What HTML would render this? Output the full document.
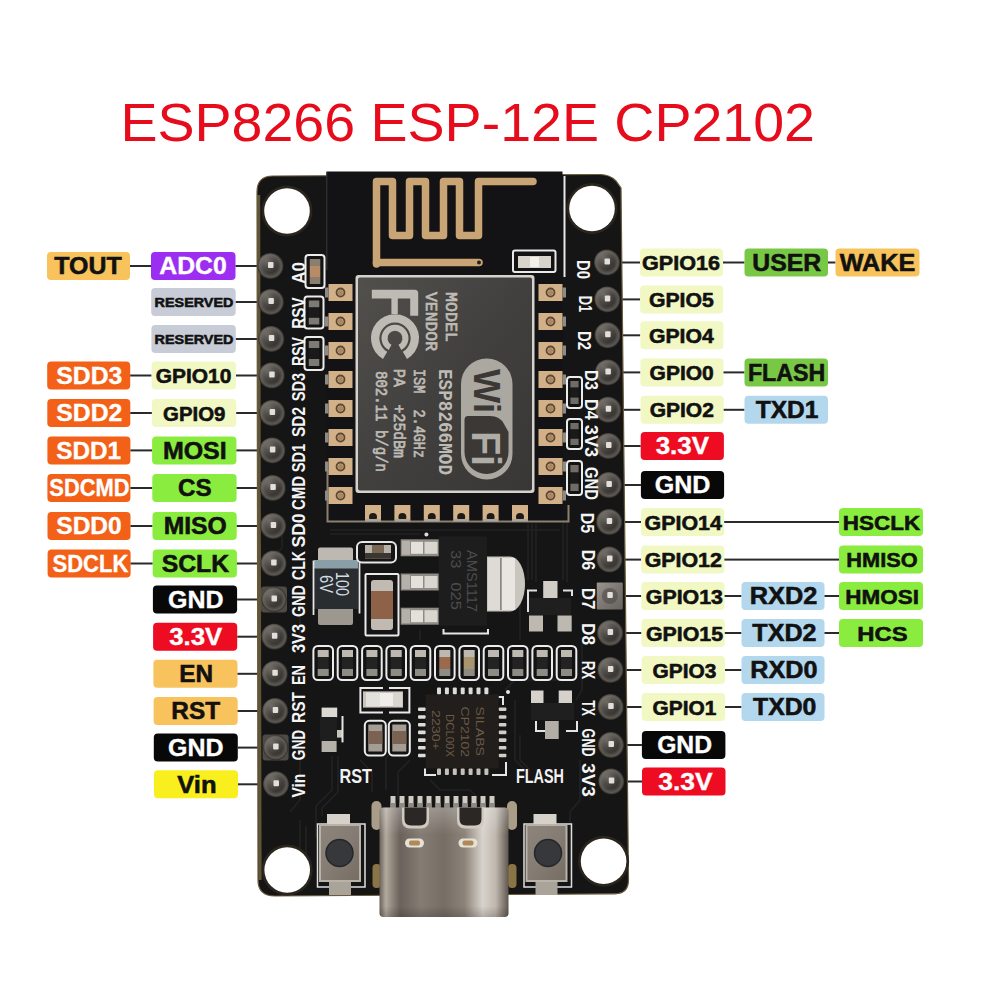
<!DOCTYPE html>
<html><head><meta charset="utf-8"><title>ESP8266 ESP-12E CP2102 pinout</title>
<style>
html,body{margin:0;padding:0;background:#fff;width:1000px;height:1000px;overflow:hidden}
svg{display:block;font-family:"Liberation Sans", sans-serif}
</style></head><body>
<svg width="1000" height="1000" viewBox="0 0 1000 1000">
<rect width="1000" height="1000" fill="#fff"/>
<text x="120.5" y="141" font-size="53" fill="#e60c1c" textLength="694.5" lengthAdjust="spacingAndGlyphs">ESP8266 ESP-12E CP2102</text>
<g id="labels">
<rect x="47.0" y="252.0" width="83.0" height="28" rx="4" fill="#f8c35c"/>
<text x="88.0" y="274.4" font-size="23.5" font-weight="bold" fill="#111" stroke="#111" stroke-width="0.55" text-anchor="middle" textLength="67.4" lengthAdjust="spacingAndGlyphs">TOUT</text>
<rect x="130.0" y="265.0" width="21.0" height="2" fill="#2a2a2a"/>
<rect x="151.0" y="252.0" width="84.5" height="28" rx="4" fill="#9b2ef0"/>
<text x="193.0" y="274.4" font-size="23.5" font-weight="bold" fill="#fff" stroke="#fff" stroke-width="0.35" text-anchor="middle" textLength="67.4" lengthAdjust="spacingAndGlyphs">ADC0</text>
<rect x="235.5" y="265.0" width="23.5" height="2" fill="#2a2a2a"/>
<rect x="151.2" y="288.0" width="84.5" height="28" rx="4" fill="#c8ccd6"/>
<text x="194.0" y="307.4" font-size="13.0" font-weight="bold" fill="#111" stroke="#111" stroke-width="0.55" text-anchor="middle" textLength="78.8" lengthAdjust="spacingAndGlyphs">RESERVED</text>
<rect x="235.7" y="301.0" width="23.4" height="2" fill="#2a2a2a"/>
<rect x="151.4" y="325.0" width="84.4" height="28" rx="4" fill="#c8ccd6"/>
<text x="194.0" y="344.4" font-size="13.0" font-weight="bold" fill="#111" stroke="#111" stroke-width="0.55" text-anchor="middle" textLength="78.8" lengthAdjust="spacingAndGlyphs">RESERVED</text>
<rect x="235.9" y="338.0" width="23.3" height="2" fill="#2a2a2a"/>
<rect x="47.2" y="361.5" width="83.0" height="28" rx="4" fill="#f36119"/>
<text x="89.3" y="383.9" font-size="23.5" font-weight="bold" fill="#fff" stroke="#fff" stroke-width="0.35" text-anchor="middle" textLength="66.0" lengthAdjust="spacingAndGlyphs">SDD3</text>
<rect x="130.2" y="374.5" width="21.4" height="2" fill="#2a2a2a"/>
<rect x="151.6" y="361.5" width="84.4" height="28" rx="4" fill="#f2f8c3"/>
<text x="193.6" y="383.1" font-size="19.3" font-weight="bold" fill="#111" stroke="#111" stroke-width="0.55" text-anchor="middle" textLength="75.6" lengthAdjust="spacingAndGlyphs">GPIO10</text>
<rect x="236.0" y="374.5" width="23.2" height="2" fill="#2a2a2a"/>
<rect x="47.3" y="399.0" width="83.0" height="28" rx="4" fill="#f36119"/>
<text x="89.3" y="421.4" font-size="23.5" font-weight="bold" fill="#fff" stroke="#fff" stroke-width="0.35" text-anchor="middle" textLength="66.0" lengthAdjust="spacingAndGlyphs">SDD2</text>
<rect x="130.3" y="412.0" width="21.6" height="2" fill="#2a2a2a"/>
<rect x="151.9" y="399.0" width="84.4" height="28" rx="4" fill="#f2f8c3"/>
<text x="194.2" y="420.6" font-size="19.3" font-weight="bold" fill="#111" stroke="#111" stroke-width="0.55" text-anchor="middle" textLength="62.4" lengthAdjust="spacingAndGlyphs">GPIO9</text>
<rect x="236.2" y="412.0" width="23.2" height="2" fill="#2a2a2a"/>
<rect x="47.4" y="436.4" width="83.0" height="28" rx="4" fill="#f36119"/>
<text x="88.7" y="458.8" font-size="23.5" font-weight="bold" fill="#fff" stroke="#fff" stroke-width="0.35" text-anchor="middle" textLength="64.8" lengthAdjust="spacingAndGlyphs">SDD1</text>
<rect x="130.4" y="449.4" width="21.7" height="2" fill="#2a2a2a"/>
<rect x="152.1" y="436.4" width="84.3" height="28" rx="4" fill="#8aec3e"/>
<text x="194.8" y="458.8" font-size="23.5" font-weight="bold" fill="#111" stroke="#111" stroke-width="0.55" text-anchor="middle" textLength="63.8" lengthAdjust="spacingAndGlyphs">MOSI</text>
<rect x="236.4" y="449.4" width="23.1" height="2" fill="#2a2a2a"/>
<rect x="47.4" y="474.0" width="83.0" height="28" rx="4" fill="#f36119"/>
<text x="89.4" y="496.4" font-size="23.5" font-weight="bold" fill="#fff" stroke="#fff" stroke-width="0.35" text-anchor="middle" textLength="80.2" lengthAdjust="spacingAndGlyphs">SDCMD</text>
<rect x="130.4" y="487.0" width="21.9" height="2" fill="#2a2a2a"/>
<rect x="152.3" y="474.0" width="84.3" height="28" rx="4" fill="#8aec3e"/>
<text x="194.8" y="496.4" font-size="23.5" font-weight="bold" fill="#111" stroke="#111" stroke-width="0.55" text-anchor="middle" textLength="33.6" lengthAdjust="spacingAndGlyphs">CS</text>
<rect x="236.6" y="487.0" width="23.0" height="2" fill="#2a2a2a"/>
<rect x="47.5" y="512.0" width="83.0" height="28" rx="4" fill="#f36119"/>
<text x="89.0" y="534.4" font-size="23.5" font-weight="bold" fill="#fff" stroke="#fff" stroke-width="0.35" text-anchor="middle" textLength="65.4" lengthAdjust="spacingAndGlyphs">SDD0</text>
<rect x="130.5" y="525.0" width="22.0" height="2" fill="#2a2a2a"/>
<rect x="152.5" y="512.0" width="84.2" height="28" rx="4" fill="#8aec3e"/>
<text x="195.2" y="534.4" font-size="23.5" font-weight="bold" fill="#111" stroke="#111" stroke-width="0.55" text-anchor="middle" textLength="63.1" lengthAdjust="spacingAndGlyphs">MISO</text>
<rect x="236.8" y="525.0" width="22.9" height="2" fill="#2a2a2a"/>
<rect x="47.6" y="549.5" width="83.0" height="28" rx="4" fill="#f36119"/>
<text x="90.4" y="571.9" font-size="23.5" font-weight="bold" fill="#fff" stroke="#fff" stroke-width="0.35" text-anchor="middle" textLength="75.8" lengthAdjust="spacingAndGlyphs">SDCLK</text>
<rect x="130.6" y="562.5" width="22.1" height="2" fill="#2a2a2a"/>
<rect x="152.7" y="549.5" width="84.2" height="28" rx="4" fill="#8aec3e"/>
<text x="195.4" y="571.9" font-size="23.5" font-weight="bold" fill="#111" stroke="#111" stroke-width="0.55" text-anchor="middle" textLength="67.4" lengthAdjust="spacingAndGlyphs">SCLK</text>
<rect x="236.9" y="562.5" width="22.8" height="2" fill="#2a2a2a"/>
<rect x="152.9" y="585.5" width="84.2" height="28" rx="4" fill="#080808"/>
<text x="195.8" y="607.9" font-size="23.5" font-weight="bold" fill="#fff" stroke="#fff" stroke-width="0.35" text-anchor="middle" textLength="55.5" lengthAdjust="spacingAndGlyphs">GND</text>
<rect x="237.1" y="598.5" width="22.7" height="2" fill="#2a2a2a"/>
<rect x="153.1" y="622.7" width="84.1" height="28" rx="4" fill="#ee0c22"/>
<text x="195.8" y="645.1" font-size="23.5" font-weight="bold" fill="#fff" stroke="#fff" stroke-width="0.35" text-anchor="middle" textLength="53.0" lengthAdjust="spacingAndGlyphs">3.3V</text>
<rect x="237.3" y="635.7" width="22.6" height="2" fill="#2a2a2a"/>
<rect x="153.4" y="659.8" width="84.1" height="28" rx="4" fill="#f8c35c"/>
<text x="196.2" y="682.2" font-size="23.5" font-weight="bold" fill="#111" stroke="#111" stroke-width="0.55" text-anchor="middle" textLength="33.8" lengthAdjust="spacingAndGlyphs">EN</text>
<rect x="237.5" y="672.8" width="22.6" height="2" fill="#2a2a2a"/>
<rect x="153.6" y="697.0" width="84.1" height="28" rx="4" fill="#f8c35c"/>
<text x="195.7" y="719.4" font-size="23.5" font-weight="bold" fill="#111" stroke="#111" stroke-width="0.55" text-anchor="middle" textLength="48.7" lengthAdjust="spacingAndGlyphs">RST</text>
<rect x="237.6" y="710.0" width="22.5" height="2" fill="#2a2a2a"/>
<rect x="153.8" y="733.6" width="84.0" height="28" rx="4" fill="#080808"/>
<text x="195.8" y="756.0" font-size="23.5" font-weight="bold" fill="#fff" stroke="#fff" stroke-width="0.35" text-anchor="middle" textLength="55.5" lengthAdjust="spacingAndGlyphs">GND</text>
<rect x="237.8" y="746.6" width="22.4" height="2" fill="#2a2a2a"/>
<rect x="154.0" y="770.3" width="84.0" height="28" rx="4" fill="#f9ef1e"/>
<text x="196.9" y="792.7" font-size="23.5" font-weight="bold" fill="#111" stroke="#111" stroke-width="0.55" text-anchor="middle" textLength="39.3" lengthAdjust="spacingAndGlyphs">Vin</text>
<rect x="238.0" y="783.3" width="22.3" height="2" fill="#2a2a2a"/>
<rect x="619.5" y="261.5" width="20.5" height="2" fill="#2a2a2a"/>
<rect x="640.0" y="248.5" width="83.0" height="28" rx="4" fill="#f2f8c3"/>
<text x="681.0" y="270.1" font-size="19.3" font-weight="bold" fill="#111" stroke="#111" stroke-width="0.55" text-anchor="middle" textLength="78.0" lengthAdjust="spacingAndGlyphs">GPIO16</text>
<rect x="723.0" y="261.5" width="21.5" height="2" fill="#2a2a2a"/>
<rect x="744.5" y="248.5" width="83.5" height="28" rx="4" fill="#78c846"/>
<text x="786.8" y="270.9" font-size="23.5" font-weight="bold" fill="#111" stroke="#111" stroke-width="0.55" text-anchor="middle" textLength="68.9" lengthAdjust="spacingAndGlyphs">USER</text>
<rect x="828.0" y="261.5" width="7.5" height="2" fill="#2a2a2a"/>
<rect x="835.5" y="248.5" width="84.0" height="28" rx="4" fill="#f8c35c"/>
<text x="877.5" y="270.9" font-size="23.5" font-weight="bold" fill="#111" stroke="#111" stroke-width="0.55" text-anchor="middle" textLength="75.5" lengthAdjust="spacingAndGlyphs">WAKE</text>
<rect x="619.8" y="298.4" width="20.3" height="2" fill="#2a2a2a"/>
<rect x="640.1" y="285.4" width="83.0" height="28" rx="4" fill="#f2f8c3"/>
<text x="681.3" y="307.0" font-size="19.3" font-weight="bold" fill="#111" stroke="#111" stroke-width="0.55" text-anchor="middle" textLength="64.8" lengthAdjust="spacingAndGlyphs">GPIO5</text>
<rect x="620.2" y="334.3" width="20.1" height="2" fill="#2a2a2a"/>
<rect x="640.3" y="321.3" width="83.1" height="28" rx="4" fill="#f2f8c3"/>
<text x="681.3" y="342.9" font-size="19.3" font-weight="bold" fill="#111" stroke="#111" stroke-width="0.55" text-anchor="middle" textLength="64.8" lengthAdjust="spacingAndGlyphs">GPIO4</text>
<rect x="620.6" y="371.4" width="19.9" height="2" fill="#2a2a2a"/>
<rect x="640.4" y="358.4" width="83.1" height="28" rx="4" fill="#f2f8c3"/>
<text x="681.7" y="380.0" font-size="19.3" font-weight="bold" fill="#111" stroke="#111" stroke-width="0.55" text-anchor="middle" textLength="64.2" lengthAdjust="spacingAndGlyphs">GPIO0</text>
<rect x="723.5" y="371.4" width="21.0" height="2" fill="#2a2a2a"/>
<rect x="744.5" y="358.4" width="83.5" height="28" rx="4" fill="#78c846"/>
<text x="786.6" y="380.8" font-size="23.5" font-weight="bold" fill="#111" stroke="#111" stroke-width="0.55" text-anchor="middle" textLength="77.4" lengthAdjust="spacingAndGlyphs">FLASH</text>
<rect x="620.9" y="408.8" width="19.6" height="2" fill="#2a2a2a"/>
<rect x="640.6" y="395.8" width="83.1" height="28" rx="4" fill="#f2f8c3"/>
<text x="681.8" y="417.4" font-size="19.3" font-weight="bold" fill="#111" stroke="#111" stroke-width="0.55" text-anchor="middle" textLength="64.2" lengthAdjust="spacingAndGlyphs">GPIO2</text>
<rect x="723.7" y="408.8" width="20.8" height="2" fill="#2a2a2a"/>
<rect x="744.5" y="395.8" width="83.5" height="28" rx="4" fill="#b3d8ee"/>
<text x="787.1" y="418.2" font-size="23.5" font-weight="bold" fill="#111" stroke="#111" stroke-width="0.55" text-anchor="middle" textLength="62.8" lengthAdjust="spacingAndGlyphs">TXD1</text>
<rect x="621.3" y="445.0" width="19.4" height="2" fill="#2a2a2a"/>
<rect x="640.7" y="432.0" width="83.2" height="28" rx="4" fill="#ee0c22"/>
<text x="682.4" y="454.4" font-size="23.5" font-weight="bold" fill="#fff" stroke="#fff" stroke-width="0.35" text-anchor="middle" textLength="53.4" lengthAdjust="spacingAndGlyphs">3.3V</text>
<rect x="621.7" y="484.0" width="19.2" height="2" fill="#2a2a2a"/>
<rect x="640.9" y="471.0" width="83.2" height="28" rx="4" fill="#080808"/>
<text x="682.6" y="493.4" font-size="23.5" font-weight="bold" fill="#fff" stroke="#fff" stroke-width="0.35" text-anchor="middle" textLength="55.7" lengthAdjust="spacingAndGlyphs">GND</text>
<rect x="622.1" y="521.0" width="18.9" height="2" fill="#2a2a2a"/>
<rect x="641.0" y="508.0" width="83.2" height="28" rx="4" fill="#f2f8c3"/>
<text x="683.2" y="529.6" font-size="19.3" font-weight="bold" fill="#111" stroke="#111" stroke-width="0.55" text-anchor="middle" textLength="77.2" lengthAdjust="spacingAndGlyphs">GPIO14</text>
<rect x="724.2" y="521.0" width="114.8" height="2" fill="#2a2a2a"/>
<rect x="839.0" y="508.0" width="84.0" height="28" rx="4" fill="#8aec3e"/>
<text x="881.5" y="529.6" font-size="21" font-weight="bold" fill="#111" stroke="#111" stroke-width="0.55" text-anchor="middle" textLength="77.3" lengthAdjust="spacingAndGlyphs">HSCLK</text>
<rect x="622.4" y="558.6" width="18.7" height="2" fill="#2a2a2a"/>
<rect x="641.1" y="545.6" width="83.3" height="28" rx="4" fill="#f2f8c3"/>
<text x="683.3" y="567.2" font-size="19.3" font-weight="bold" fill="#111" stroke="#111" stroke-width="0.55" text-anchor="middle" textLength="77.2" lengthAdjust="spacingAndGlyphs">GPIO12</text>
<rect x="724.4" y="558.6" width="114.6" height="2" fill="#2a2a2a"/>
<rect x="839.0" y="545.6" width="84.0" height="28" rx="4" fill="#8aec3e"/>
<text x="882.0" y="567.2" font-size="21" font-weight="bold" fill="#111" stroke="#111" stroke-width="0.55" text-anchor="middle" textLength="71.3" lengthAdjust="spacingAndGlyphs">HMISO</text>
<rect x="622.8" y="595.0" width="18.5" height="2" fill="#2a2a2a"/>
<rect x="641.3" y="582.0" width="83.3" height="28" rx="4" fill="#f2f8c3"/>
<text x="684.4" y="603.6" font-size="19.3" font-weight="bold" fill="#111" stroke="#111" stroke-width="0.55" text-anchor="middle" textLength="77.2" lengthAdjust="spacingAndGlyphs">GPIO13</text>
<rect x="724.6" y="595.0" width="16.9" height="2" fill="#2a2a2a"/>
<rect x="741.5" y="582.0" width="83.0" height="28" rx="4" fill="#b3d8ee"/>
<text x="783.5" y="604.4" font-size="23.5" font-weight="bold" fill="#111" stroke="#111" stroke-width="0.55" text-anchor="middle" textLength="67.6" lengthAdjust="spacingAndGlyphs">RXD2</text>
<rect x="824.5" y="595.0" width="14.5" height="2" fill="#2a2a2a"/>
<rect x="839.0" y="582.0" width="84.0" height="28" rx="4" fill="#8aec3e"/>
<text x="882.2" y="603.6" font-size="21" font-weight="bold" fill="#111" stroke="#111" stroke-width="0.55" text-anchor="middle" textLength="73.7" lengthAdjust="spacingAndGlyphs">HMOSI</text>
<rect x="623.2" y="632.0" width="18.3" height="2" fill="#2a2a2a"/>
<rect x="641.4" y="619.0" width="83.4" height="28" rx="4" fill="#f2f8c3"/>
<text x="684.5" y="640.6" font-size="19.3" font-weight="bold" fill="#111" stroke="#111" stroke-width="0.55" text-anchor="middle" textLength="77.2" lengthAdjust="spacingAndGlyphs">GPIO15</text>
<rect x="724.8" y="632.0" width="16.7" height="2" fill="#2a2a2a"/>
<rect x="741.5" y="619.0" width="83.0" height="28" rx="4" fill="#b3d8ee"/>
<text x="784.4" y="641.4" font-size="23.5" font-weight="bold" fill="#111" stroke="#111" stroke-width="0.55" text-anchor="middle" textLength="64.1" lengthAdjust="spacingAndGlyphs">TXD2</text>
<rect x="824.5" y="632.0" width="14.5" height="2" fill="#2a2a2a"/>
<rect x="839.0" y="619.0" width="84.0" height="28" rx="4" fill="#8aec3e"/>
<text x="882.5" y="640.6" font-size="21" font-weight="bold" fill="#111" stroke="#111" stroke-width="0.55" text-anchor="middle" textLength="50.3" lengthAdjust="spacingAndGlyphs">HCS</text>
<rect x="623.5" y="669.0" width="18.0" height="2" fill="#2a2a2a"/>
<rect x="641.6" y="656.0" width="83.4" height="28" rx="4" fill="#f2f8c3"/>
<text x="684.4" y="677.6" font-size="19.3" font-weight="bold" fill="#111" stroke="#111" stroke-width="0.55" text-anchor="middle" textLength="63.9" lengthAdjust="spacingAndGlyphs">GPIO3</text>
<rect x="725.0" y="669.0" width="16.5" height="2" fill="#2a2a2a"/>
<rect x="741.5" y="656.0" width="83.0" height="28" rx="4" fill="#b3d8ee"/>
<text x="783.9" y="678.4" font-size="23.5" font-weight="bold" fill="#111" stroke="#111" stroke-width="0.55" text-anchor="middle" textLength="67.2" lengthAdjust="spacingAndGlyphs">RXD0</text>
<rect x="623.9" y="706.0" width="17.8" height="2" fill="#2a2a2a"/>
<rect x="641.7" y="693.0" width="83.4" height="28" rx="4" fill="#f2f8c3"/>
<text x="684.5" y="714.6" font-size="19.3" font-weight="bold" fill="#111" stroke="#111" stroke-width="0.55" text-anchor="middle" textLength="63.9" lengthAdjust="spacingAndGlyphs">GPIO1</text>
<rect x="725.1" y="706.0" width="16.4" height="2" fill="#2a2a2a"/>
<rect x="741.5" y="693.0" width="83.0" height="28" rx="4" fill="#b3d8ee"/>
<text x="784.7" y="715.4" font-size="23.5" font-weight="bold" fill="#111" stroke="#111" stroke-width="0.55" text-anchor="middle" textLength="63.4" lengthAdjust="spacingAndGlyphs">TXD0</text>
<rect x="624.3" y="744.0" width="17.6" height="2" fill="#2a2a2a"/>
<rect x="641.9" y="731.0" width="83.5" height="28" rx="4" fill="#080808"/>
<text x="684.6" y="753.4" font-size="23.5" font-weight="bold" fill="#fff" stroke="#fff" stroke-width="0.35" text-anchor="middle" textLength="54.9" lengthAdjust="spacingAndGlyphs">GND</text>
<rect x="624.7" y="780.5" width="17.3" height="2" fill="#2a2a2a"/>
<rect x="642.0" y="767.5" width="83.5" height="28" rx="4" fill="#ee0c22"/>
<text x="685.5" y="789.9" font-size="23.5" font-weight="bold" fill="#fff" stroke="#fff" stroke-width="0.35" text-anchor="middle" textLength="54.4" lengthAdjust="spacingAndGlyphs">3.3V</text>
</g>
<g id="board">
<path d="M257,192 Q257,176 273,176 L600,174.5 Q610,174.5 616,181 L621,188 L628.5,880 Q628.5,893.5 615,893.8 L275,896 Q258,896 258,880 Z" fill="#151516" stroke="#6b5a3c" stroke-width="1.2"/>
<path d="M258.6,195 L260,880" stroke="#6a5c3c" stroke-width="3.2" opacity="0.9"/>
<path d="M332,756 L332,790 L316,806 L316,838" fill="none" stroke="#222224" stroke-width="1.6"/>
<path d="M338,756 L338,792 L322,808 L322,816" fill="none" stroke="#222224" stroke-width="1.6"/>
<path d="M300,760 L300,800 L290,812" fill="none" stroke="#222224" stroke-width="1.6"/>
<path d="M360,760 L372,772 L372,792" fill="none" stroke="#222224" stroke-width="1.6"/>
<path d="M410,760 L398,772 L398,800" fill="none" stroke="#222224" stroke-width="1.6"/>
<path d="M404,740 L386,758 L386,790" fill="none" stroke="#222224" stroke-width="1.6"/>
<path d="M528,520 L528,580" fill="none" stroke="#222224" stroke-width="1.6"/>
<path d="M532,520 L532,580" fill="none" stroke="#222224" stroke-width="1.6"/>
<path d="M536,520 L536,582" fill="none" stroke="#222224" stroke-width="1.6"/>
<path d="M563,520 L563,580" fill="none" stroke="#222224" stroke-width="1.6"/>
<path d="M567,520 L567,582" fill="none" stroke="#222224" stroke-width="1.6"/>
<path d="M520,640 L520,600" fill="none" stroke="#222224" stroke-width="1.6"/>
<path d="M582,640 L582,690 L576,700" fill="none" stroke="#222224" stroke-width="1.6"/>
<path d="M515,700 L515,760 L525,770" fill="none" stroke="#222224" stroke-width="1.6"/>
<path d="M520,735 L520,760 L530,770" fill="none" stroke="#222224" stroke-width="1.6"/>
<path d="M505,690 L515,680 L560,680" fill="none" stroke="#222224" stroke-width="1.6"/>
<path d="M330,530 L560,530" fill="none" stroke="#222224" stroke-width="1.6"/>
<path d="M330,534 L420,534" fill="none" stroke="#222224" stroke-width="1.6"/>
<path d="M300,642 L300,600 L306,592" fill="none" stroke="#222224" stroke-width="1.6"/>
<path d="M420,640 L420,630" fill="none" stroke="#222224" stroke-width="1.6"/>
<path d="M580,760 L580,800 L570,812 L570,880" fill="none" stroke="#222224" stroke-width="1.6"/>
<path d="M590,770 L590,800" fill="none" stroke="#222224" stroke-width="1.6"/>
<path d="M300,820 L300,880" fill="none" stroke="#222224" stroke-width="1.6"/>
<path d="M306,826 L306,884" fill="none" stroke="#222224" stroke-width="1.6"/>
<path d="M430,780 L440,790 L470,790 L478,798" fill="none" stroke="#222224" stroke-width="1.6"/>
<path d="M270,560 L282,548 L282,520" fill="none" stroke="#222224" stroke-width="1.6"/>
<circle cx="287" cy="211" r="25.5" fill="#2b251d"/>
<circle cx="287" cy="211" r="22.8" fill="#fff"/>
<circle cx="592" cy="208.5" r="25.5" fill="#2b251d"/>
<circle cx="592" cy="208.5" r="22.8" fill="#fff"/>
<circle cx="287.2" cy="870" r="25.5" fill="#2b251d"/>
<circle cx="287.2" cy="870" r="22.8" fill="#fff"/>
<circle cx="603.6" cy="861.2" r="25.5" fill="#2b251d"/>
<circle cx="603.6" cy="861.2" r="22.8" fill="#fff"/>
<rect x="326.5" y="171.5" width="236" height="352" fill="#131315"/>
<line x1="326.8" y1="172" x2="326.8" y2="270" stroke="#3a3a3a" stroke-width="1"/>
<path d="M327.5,470 L327.5,521.5 L568.5,521.5 L568.5,505" fill="none" stroke="#8c8070" stroke-width="2"/>
<line x1="564.5" y1="176" x2="564.5" y2="277" stroke="#e8e8e8" stroke-width="2"/>
<path d="M376.5,264 L376.5,181.5 L392.5,181.5 L392.5,235.5 L409.5,235.5 L409.5,181.5 L425.5,181.5 L425.5,235.5 L443.5,235.5 L443.5,181.5 L459.5,181.5 L459.5,235.5 L478.5,235.5 L478.5,181.5 L533,181.5" fill="none" stroke="#c9a576" stroke-width="7.5" stroke-linejoin="round" stroke-linecap="round"/>
<path d="M376.5,262.5 L479,262.5" fill="none" stroke="#c9a576" stroke-width="7.5" stroke-linecap="round"/>
<circle cx="479" cy="262.5" r="2" fill="#222"/>
<rect x="513" y="250.5" width="42.5" height="21.5" rx="2" fill="none" stroke="#e9e9e9" stroke-width="2"/>
<rect x="518" y="256" width="33" height="12" fill="#d8d4cc"/>
<rect x="530" y="257" width="9" height="10" fill="#f2f0ea"/>
<rect x="328.5" y="284.0" width="24" height="17" fill="#d2b189"/>
<rect x="325.0" y="287.5" width="3.5" height="10" fill="#8e8a84"/>
<circle cx="340.5" cy="292.5" r="4" fill="none" stroke="#5e4733" stroke-width="1.8"/>
<circle cx="340.5" cy="292.5" r="2.6" fill="#a8885f"/>
<rect x="538.5" y="284.0" width="24" height="17" fill="#d2b189"/>
<rect x="562.5" y="287.5" width="3.5" height="10" fill="#8e8a84"/>
<circle cx="550.5" cy="292.5" r="4" fill="none" stroke="#5e4733" stroke-width="1.8"/>
<circle cx="550.5" cy="292.5" r="2.6" fill="#a8885f"/>
<rect x="328.5" y="313.0" width="24" height="17" fill="#d2b189"/>
<rect x="325.0" y="316.5" width="3.5" height="10" fill="#8e8a84"/>
<circle cx="340.5" cy="321.5" r="4" fill="none" stroke="#5e4733" stroke-width="1.8"/>
<circle cx="340.5" cy="321.5" r="2.6" fill="#a8885f"/>
<rect x="538.5" y="313.0" width="24" height="17" fill="#d2b189"/>
<rect x="562.5" y="316.5" width="3.5" height="10" fill="#8e8a84"/>
<circle cx="550.5" cy="321.5" r="4" fill="none" stroke="#5e4733" stroke-width="1.8"/>
<circle cx="550.5" cy="321.5" r="2.6" fill="#a8885f"/>
<rect x="328.5" y="342.0" width="24" height="17" fill="#d2b189"/>
<rect x="325.0" y="345.5" width="3.5" height="10" fill="#8e8a84"/>
<circle cx="340.5" cy="350.5" r="4" fill="none" stroke="#5e4733" stroke-width="1.8"/>
<circle cx="340.5" cy="350.5" r="2.6" fill="#a8885f"/>
<rect x="538.5" y="342.0" width="24" height="17" fill="#d2b189"/>
<rect x="562.5" y="345.5" width="3.5" height="10" fill="#8e8a84"/>
<circle cx="550.5" cy="350.5" r="4" fill="none" stroke="#5e4733" stroke-width="1.8"/>
<circle cx="550.5" cy="350.5" r="2.6" fill="#a8885f"/>
<rect x="328.5" y="371.0" width="24" height="17" fill="#d2b189"/>
<rect x="325.0" y="374.5" width="3.5" height="10" fill="#8e8a84"/>
<circle cx="340.5" cy="379.5" r="4" fill="none" stroke="#5e4733" stroke-width="1.8"/>
<circle cx="340.5" cy="379.5" r="2.6" fill="#a8885f"/>
<rect x="538.5" y="371.0" width="24" height="17" fill="#d2b189"/>
<rect x="562.5" y="374.5" width="3.5" height="10" fill="#8e8a84"/>
<circle cx="550.5" cy="379.5" r="4" fill="none" stroke="#5e4733" stroke-width="1.8"/>
<circle cx="550.5" cy="379.5" r="2.6" fill="#a8885f"/>
<rect x="328.5" y="400.0" width="24" height="17" fill="#d2b189"/>
<rect x="325.0" y="403.5" width="3.5" height="10" fill="#8e8a84"/>
<circle cx="340.5" cy="408.5" r="4" fill="none" stroke="#5e4733" stroke-width="1.8"/>
<circle cx="340.5" cy="408.5" r="2.6" fill="#a8885f"/>
<rect x="538.5" y="400.0" width="24" height="17" fill="#d2b189"/>
<rect x="562.5" y="403.5" width="3.5" height="10" fill="#8e8a84"/>
<circle cx="550.5" cy="408.5" r="4" fill="none" stroke="#5e4733" stroke-width="1.8"/>
<circle cx="550.5" cy="408.5" r="2.6" fill="#a8885f"/>
<rect x="328.5" y="429.0" width="24" height="17" fill="#d2b189"/>
<rect x="325.0" y="432.5" width="3.5" height="10" fill="#8e8a84"/>
<circle cx="340.5" cy="437.5" r="4" fill="none" stroke="#5e4733" stroke-width="1.8"/>
<circle cx="340.5" cy="437.5" r="2.6" fill="#a8885f"/>
<rect x="538.5" y="429.0" width="24" height="17" fill="#d2b189"/>
<rect x="562.5" y="432.5" width="3.5" height="10" fill="#8e8a84"/>
<circle cx="550.5" cy="437.5" r="4" fill="none" stroke="#5e4733" stroke-width="1.8"/>
<circle cx="550.5" cy="437.5" r="2.6" fill="#a8885f"/>
<rect x="328.5" y="458.0" width="24" height="17" fill="#d2b189"/>
<rect x="325.0" y="461.5" width="3.5" height="10" fill="#8e8a84"/>
<circle cx="340.5" cy="466.5" r="4" fill="none" stroke="#5e4733" stroke-width="1.8"/>
<circle cx="340.5" cy="466.5" r="2.6" fill="#a8885f"/>
<rect x="538.5" y="458.0" width="24" height="17" fill="#d2b189"/>
<rect x="562.5" y="461.5" width="3.5" height="10" fill="#8e8a84"/>
<circle cx="550.5" cy="466.5" r="4" fill="none" stroke="#5e4733" stroke-width="1.8"/>
<circle cx="550.5" cy="466.5" r="2.6" fill="#a8885f"/>
<rect x="328.5" y="487.0" width="24" height="17" fill="#d2b189"/>
<rect x="325.0" y="490.5" width="3.5" height="10" fill="#8e8a84"/>
<circle cx="340.5" cy="495.5" r="4" fill="none" stroke="#5e4733" stroke-width="1.8"/>
<circle cx="340.5" cy="495.5" r="2.6" fill="#a8885f"/>
<rect x="538.5" y="487.0" width="24" height="17" fill="#d2b189"/>
<rect x="562.5" y="490.5" width="3.5" height="10" fill="#8e8a84"/>
<circle cx="550.5" cy="495.5" r="4" fill="none" stroke="#5e4733" stroke-width="1.8"/>
<circle cx="550.5" cy="495.5" r="2.6" fill="#a8885f"/>
<rect x="365.0" y="505" width="16" height="14.5" fill="#d2b189"/>
<circle cx="373.0" cy="517" r="4" fill="#1e1a16"/>
<rect x="365.0" y="519" width="16" height="2.5" fill="#a9a49c"/>
<rect x="394.4" y="505" width="16" height="14.5" fill="#d2b189"/>
<circle cx="402.4" cy="517" r="4" fill="#1e1a16"/>
<rect x="394.4" y="519" width="16" height="2.5" fill="#a9a49c"/>
<rect x="423.8" y="505" width="16" height="14.5" fill="#d2b189"/>
<circle cx="431.8" cy="517" r="4" fill="#1e1a16"/>
<rect x="423.8" y="519" width="16" height="2.5" fill="#a9a49c"/>
<rect x="453.2" y="505" width="16" height="14.5" fill="#d2b189"/>
<circle cx="461.2" cy="517" r="4" fill="#1e1a16"/>
<rect x="453.2" y="519" width="16" height="2.5" fill="#a9a49c"/>
<rect x="482.6" y="505" width="16" height="14.5" fill="#d2b189"/>
<circle cx="490.6" cy="517" r="4" fill="#1e1a16"/>
<rect x="482.6" y="519" width="16" height="2.5" fill="#a9a49c"/>
<rect x="512.0" y="505" width="16" height="14.5" fill="#d2b189"/>
<circle cx="520.0" cy="517" r="4" fill="#1e1a16"/>
<rect x="512.0" y="519" width="16" height="2.5" fill="#a9a49c"/>
<defs><linearGradient id="sh" x1="0" y1="0" x2="1" y2="1"><stop offset="0" stop-color="#52504d"/><stop offset="0.5" stop-color="#42403e"/><stop offset="1" stop-color="#393735"/></linearGradient><radialGradient id="pin" cx="0.5" cy="0.5" r="0.5"><stop offset="0" stop-color="#2e2c2a"/><stop offset="0.55" stop-color="#3a3734"/><stop offset="0.85" stop-color="#5e5953"/><stop offset="1" stop-color="#2b2926"/></radialGradient><radialGradient id="pinhl" cx="0.35" cy="0.3" r="0.5"><stop offset="0" stop-color="#9a948c" stop-opacity="0.55"/><stop offset="1" stop-color="#9a948c" stop-opacity="0"/></radialGradient><linearGradient id="sqpin" x1="0" y1="0" x2="1" y2="1"><stop offset="0" stop-color="#9a958e"/><stop offset="0.5" stop-color="#7d7873"/><stop offset="1" stop-color="#66625d"/></linearGradient><linearGradient id="usb" x1="0" y1="0" x2="1" y2="0"><stop offset="0" stop-color="#5f5a55"/><stop offset="0.2" stop-color="#a9a39b"/><stop offset="0.5" stop-color="#8d8880"/><stop offset="0.8" stop-color="#a8a299"/><stop offset="1" stop-color="#5b5650"/></linearGradient><linearGradient id="btn" x1="0" y1="0" x2="1" y2="1"><stop offset="0" stop-color="#8d857b"/><stop offset="0.5" stop-color="#857d73"/><stop offset="1" stop-color="#756d64"/></linearGradient></defs>
<rect x="355.5" y="275" width="179" height="218" rx="3" fill="#d4d2cd"/>
<rect x="358" y="277.5" width="174" height="213" rx="2" fill="url(#sh)"/>
<g fill="#bebbb5"><path d="M371.8,289.8 L414.7,289.8 Q418.2,289.8 418.2,293.3 L418.2,315.8 L410.2,315.8 L410.2,298.6 L397.8,298.6 L397.8,314 L391.4,314 L391.4,298.6 L371.8,298.6 Z"/><path d="M385.1,355.35 A19.8,19.8 0 1 1 404.9,355.35" fill="none" stroke="#bebbb5" stroke-width="8.4"/><path d="M390.1,347.47 A10.5,10.5 0 1 1 399.9,347.47" fill="none" stroke="#bebbb5" stroke-width="6"/></g>
<text transform="translate(446,292) rotate(90)" font-size="17" font-weight="normal" fill="#bebbb5" text-anchor="start" textLength="50" lengthAdjust="spacingAndGlyphs" font-family="Liberation Mono, monospace" stroke="#bebbb5" stroke-width="0.7">MODEL</text>
<text transform="translate(426,292) rotate(90)" font-size="17" font-weight="normal" fill="#bebbb5" text-anchor="start" textLength="59" lengthAdjust="spacingAndGlyphs" font-family="Liberation Mono, monospace" stroke="#bebbb5" stroke-width="0.7">VENDOR</text>
<text transform="translate(439,369) rotate(90)" font-size="20" font-weight="bold" fill="#bebbb5" text-anchor="start" textLength="106" lengthAdjust="spacingAndGlyphs" font-family="Liberation Mono, monospace">ESP8266MOD</text>
<text transform="translate(414,369) rotate(90)" font-size="17" font-weight="normal" fill="#bebbb5" text-anchor="start" textLength="89" lengthAdjust="spacingAndGlyphs" font-family="Liberation Mono, monospace" stroke="#bebbb5" stroke-width="0.7">ISM&#160;&#160;2.4GHz</text>
<text transform="translate(394,369) rotate(90)" font-size="17" font-weight="normal" fill="#bebbb5" text-anchor="start" textLength="89" lengthAdjust="spacingAndGlyphs" font-family="Liberation Mono, monospace" stroke="#bebbb5" stroke-width="0.7">PA&#160;&#160;+25dBm</text>
<text transform="translate(375.5,371) rotate(90)" font-size="17" font-weight="normal" fill="#bebbb5" text-anchor="start" textLength="101" lengthAdjust="spacingAndGlyphs" font-family="Liberation Mono, monospace" stroke="#bebbb5" stroke-width="0.7">802.11 b/g/n</text>
<rect x="461" y="358.5" width="51.5" height="121" rx="25.5" fill="#aba7a1"/>
<path d="M468,416 L490,416 Q500,416 504,424 L508.5,432 L508.5,452 A22,22 0 0 1 464.5,452 L464.5,420 Q464.5,416 468,416 Z" fill="#3b3836"/>
<g transform="translate(474,391) rotate(90)"><text x="0" y="0" font-size="36" font-weight="bold" fill="#3b3836" text-anchor="middle" textLength="44" lengthAdjust="spacingAndGlyphs" dominant-baseline="auto">Wi</text></g>
<g transform="translate(472,448.5) rotate(90)"><text x="0" y="0" font-size="41" font-weight="bold" fill="#b0aca6" text-anchor="middle" textLength="35" lengthAdjust="spacingAndGlyphs">Fi</text></g>
<rect x="305.5" y="255" width="19" height="33" rx="3" fill="#131313" stroke="#ececec" stroke-width="2"/>
<rect x="309.8" y="259.0" width="10.5" height="25.0" fill="#1a1a1a"/>
<rect x="309.8" y="259.0" width="10.5" height="7.0" fill="#8a7e70"/>
<rect x="309.8" y="277.0" width="10.5" height="7.0" fill="#8a7e70"/>
<rect x="309.8" y="266.0" width="10.5" height="11.0" fill="#b88a66"/>
<rect x="304.5" y="296.5" width="19" height="32" rx="3" fill="#131313" stroke="#ececec" stroke-width="2"/>
<rect x="308.8" y="300.5" width="10.5" height="24.0" fill="#1a1a1a"/>
<rect x="308.8" y="300.5" width="10.5" height="6.7" fill="#7d7a75"/>
<rect x="308.8" y="317.8" width="10.5" height="6.7" fill="#7d7a75"/>
<rect x="304.5" y="337" width="19" height="33" rx="3" fill="#131313" stroke="#ececec" stroke-width="2"/>
<rect x="308.8" y="341.0" width="10.5" height="25.0" fill="#1a1a1a"/>
<rect x="308.8" y="341.0" width="10.5" height="7.0" fill="#7d7a75"/>
<rect x="308.8" y="359.0" width="10.5" height="7.0" fill="#7d7a75"/>
<rect x="567" y="377" width="15" height="31" rx="3" fill="#131313" stroke="#ececec" stroke-width="2"/>
<rect x="570.4" y="381.0" width="8.2" height="23.0" fill="#1a1a1a"/>
<rect x="570.4" y="381.0" width="8.2" height="6.4" fill="#6f6c68"/>
<rect x="570.4" y="397.6" width="8.2" height="6.4" fill="#6f6c68"/>
<rect x="567" y="419" width="15" height="30" rx="3" fill="#131313" stroke="#ececec" stroke-width="2"/>
<rect x="570.4" y="423.0" width="8.2" height="22.0" fill="#1a1a1a"/>
<rect x="570.4" y="423.0" width="8.2" height="6.2" fill="#6f6c68"/>
<rect x="570.4" y="438.8" width="8.2" height="6.2" fill="#6f6c68"/>
<rect x="567" y="461" width="15" height="34" rx="3" fill="#131313" stroke="#ececec" stroke-width="2"/>
<rect x="570.4" y="465.0" width="8.2" height="26.0" fill="#1a1a1a"/>
<rect x="570.4" y="465.0" width="8.2" height="7.3" fill="#6f6c68"/>
<rect x="570.4" y="483.7" width="8.2" height="7.3" fill="#6f6c68"/>
<circle cx="270.5" cy="266.0" r="13" fill="url(#pin)"/>
<circle cx="270.5" cy="266.0" r="13" fill="url(#pinhl)"/>
<rect x="268.0" y="262.0" width="5.5" height="6" rx="1" fill="#e2dfda"/>
<text transform="translate(305,273) rotate(-90)" font-size="17.5" font-weight="bold" fill="#f4f4f4" text-anchor="middle" textLength="21.5" lengthAdjust="spacingAndGlyphs">A0</text>
<circle cx="270.9" cy="302.0" r="13" fill="url(#pin)"/>
<circle cx="270.9" cy="302.0" r="13" fill="url(#pinhl)"/>
<rect x="268.4" y="298.0" width="5.5" height="6" rx="1" fill="#e2dfda"/>
<text transform="translate(305,313) rotate(-90)" font-size="17.5" font-weight="bold" fill="#f4f4f4" text-anchor="middle" textLength="31.5" lengthAdjust="spacingAndGlyphs">RSV</text>
<circle cx="271.3" cy="339.0" r="13" fill="url(#pin)"/>
<circle cx="271.3" cy="339.0" r="13" fill="url(#pinhl)"/>
<rect x="268.8" y="335.0" width="5.5" height="6" rx="1" fill="#e2dfda"/>
<text transform="translate(305,351.5) rotate(-90)" font-size="17.5" font-weight="bold" fill="#f4f4f4" text-anchor="middle" textLength="29" lengthAdjust="spacingAndGlyphs">RSV</text>
<circle cx="271.7" cy="375.5" r="13" fill="url(#pin)"/>
<circle cx="271.7" cy="375.5" r="13" fill="url(#pinhl)"/>
<rect x="269.2" y="371.5" width="5.5" height="6" rx="1" fill="#e2dfda"/>
<text transform="translate(305,387) rotate(-90)" font-size="17.5" font-weight="bold" fill="#f4f4f4" text-anchor="middle" textLength="28.5" lengthAdjust="spacingAndGlyphs">SD3</text>
<circle cx="272.1" cy="413.0" r="13" fill="url(#pin)"/>
<circle cx="272.1" cy="413.0" r="13" fill="url(#pinhl)"/>
<rect x="269.6" y="409.0" width="5.5" height="6" rx="1" fill="#e2dfda"/>
<text transform="translate(305,422) rotate(-90)" font-size="17.5" font-weight="bold" fill="#f4f4f4" text-anchor="middle" textLength="30" lengthAdjust="spacingAndGlyphs">SD2</text>
<circle cx="272.4" cy="450.4" r="13" fill="url(#pin)"/>
<circle cx="272.4" cy="450.4" r="13" fill="url(#pinhl)"/>
<rect x="269.9" y="446.4" width="5.5" height="6" rx="1" fill="#e2dfda"/>
<text transform="translate(305,458) rotate(-90)" font-size="17.5" font-weight="bold" fill="#f4f4f4" text-anchor="middle" textLength="28.5" lengthAdjust="spacingAndGlyphs">SD1</text>
<circle cx="272.8" cy="488.0" r="13" fill="url(#pin)"/>
<circle cx="272.8" cy="488.0" r="13" fill="url(#pinhl)"/>
<rect x="270.3" y="484.0" width="5.5" height="6" rx="1" fill="#e2dfda"/>
<text transform="translate(305,493) rotate(-90)" font-size="17.5" font-weight="bold" fill="#f4f4f4" text-anchor="middle" textLength="34" lengthAdjust="spacingAndGlyphs">CMD</text>
<circle cx="273.2" cy="526.0" r="13" fill="url(#pin)"/>
<circle cx="273.2" cy="526.0" r="13" fill="url(#pinhl)"/>
<rect x="270.7" y="522.0" width="5.5" height="6" rx="1" fill="#e2dfda"/>
<text transform="translate(305,530.5) rotate(-90)" font-size="17.5" font-weight="bold" fill="#f4f4f4" text-anchor="middle" textLength="34" lengthAdjust="spacingAndGlyphs">SD0</text>
<circle cx="273.6" cy="563.5" r="13" fill="url(#pin)"/>
<circle cx="273.6" cy="563.5" r="13" fill="url(#pinhl)"/>
<rect x="271.1" y="559.5" width="5.5" height="6" rx="1" fill="#e2dfda"/>
<text transform="translate(305,565.5) rotate(-90)" font-size="17.5" font-weight="bold" fill="#f4f4f4" text-anchor="middle" textLength="29" lengthAdjust="spacingAndGlyphs">CLK</text>
<rect x="261.0" y="586.5" width="26" height="26" rx="3" fill="#4e4a46"/>
<circle cx="274.0" cy="599.5" r="12.5" fill="url(#pin)"/>
<circle cx="274.0" cy="599.5" r="12.5" fill="url(#pinhl)"/>
<rect x="271.5" y="595.5" width="5.5" height="6" rx="1" fill="#e2dfda"/>
<text transform="translate(305,601) rotate(-90)" font-size="17.5" font-weight="bold" fill="#f4f4f4" text-anchor="middle" textLength="32" lengthAdjust="spacingAndGlyphs">GND</text>
<circle cx="274.4" cy="636.7" r="13" fill="url(#pin)"/>
<circle cx="274.4" cy="636.7" r="13" fill="url(#pinhl)"/>
<rect x="271.9" y="632.7" width="5.5" height="6" rx="1" fill="#e2dfda"/>
<text transform="translate(305,638.5) rotate(-90)" font-size="17.5" font-weight="bold" fill="#f4f4f4" text-anchor="middle" textLength="29" lengthAdjust="spacingAndGlyphs">3V3</text>
<circle cx="274.8" cy="673.8" r="13" fill="url(#pin)"/>
<circle cx="274.8" cy="673.8" r="13" fill="url(#pinhl)"/>
<rect x="272.3" y="669.8" width="5.5" height="6" rx="1" fill="#e2dfda"/>
<text transform="translate(305,675) rotate(-90)" font-size="17.5" font-weight="bold" fill="#f4f4f4" text-anchor="middle" textLength="20" lengthAdjust="spacingAndGlyphs">EN</text>
<circle cx="275.2" cy="711.0" r="13" fill="url(#pin)"/>
<circle cx="275.2" cy="711.0" r="13" fill="url(#pinhl)"/>
<rect x="272.7" y="707.0" width="5.5" height="6" rx="1" fill="#e2dfda"/>
<text transform="translate(305,707.5) rotate(-90)" font-size="17.5" font-weight="bold" fill="#f4f4f4" text-anchor="middle" textLength="31" lengthAdjust="spacingAndGlyphs">RST</text>
<rect x="262.6" y="734.6" width="26" height="26" rx="3" fill="#4e4a46"/>
<circle cx="275.6" cy="747.6" r="12.5" fill="url(#pin)"/>
<circle cx="275.6" cy="747.6" r="12.5" fill="url(#pinhl)"/>
<rect x="273.1" y="743.6" width="5.5" height="6" rx="1" fill="#e2dfda"/>
<text transform="translate(305,745) rotate(-90)" font-size="17.5" font-weight="bold" fill="#f4f4f4" text-anchor="middle" textLength="30.5" lengthAdjust="spacingAndGlyphs">GND</text>
<circle cx="276.0" cy="784.3" r="13" fill="url(#pin)"/>
<circle cx="276.0" cy="784.3" r="13" fill="url(#pinhl)"/>
<rect x="273.5" y="780.3" width="5.5" height="6" rx="1" fill="#e2dfda"/>
<text transform="translate(305,785.6) rotate(-90)" font-size="17.5" font-weight="bold" fill="#f4f4f4" text-anchor="middle" textLength="24" lengthAdjust="spacingAndGlyphs">Vin</text>
<circle cx="607.0" cy="262.5" r="13" fill="url(#pin)"/>
<circle cx="607.0" cy="262.5" r="13" fill="url(#pinhl)"/>
<rect x="604.5" y="258.5" width="5.5" height="6" rx="1" fill="#e2dfda"/>
<text transform="translate(577,269.5) rotate(90)" font-size="17.5" font-weight="bold" fill="#f4f4f4" text-anchor="middle" textLength="19" lengthAdjust="spacingAndGlyphs">D0</text>
<circle cx="607.3" cy="299.4" r="13" fill="url(#pin)"/>
<circle cx="607.3" cy="299.4" r="13" fill="url(#pinhl)"/>
<rect x="604.8" y="295.4" width="5.5" height="6" rx="1" fill="#e2dfda"/>
<text transform="translate(578.5,304) rotate(90)" font-size="17.5" font-weight="bold" fill="#f4f4f4" text-anchor="middle" textLength="16.5" lengthAdjust="spacingAndGlyphs">D1</text>
<circle cx="607.6" cy="335.3" r="13" fill="url(#pin)"/>
<circle cx="607.6" cy="335.3" r="13" fill="url(#pinhl)"/>
<rect x="605.1" y="331.3" width="5.5" height="6" rx="1" fill="#e2dfda"/>
<text transform="translate(577.5,340.5) rotate(90)" font-size="17.5" font-weight="bold" fill="#f4f4f4" text-anchor="middle" textLength="19" lengthAdjust="spacingAndGlyphs">D2</text>
<circle cx="607.9" cy="372.4" r="13" fill="url(#pin)"/>
<circle cx="607.9" cy="372.4" r="13" fill="url(#pinhl)"/>
<rect x="605.4" y="368.4" width="5.5" height="6" rx="1" fill="#e2dfda"/>
<text transform="translate(585,380) rotate(90)" font-size="17.5" font-weight="bold" fill="#f4f4f4" text-anchor="middle" textLength="20" lengthAdjust="spacingAndGlyphs">D3</text>
<circle cx="608.2" cy="409.8" r="13" fill="url(#pin)"/>
<circle cx="608.2" cy="409.8" r="13" fill="url(#pinhl)"/>
<rect x="605.7" y="405.8" width="5.5" height="6" rx="1" fill="#e2dfda"/>
<text transform="translate(585,409.5) rotate(90)" font-size="17.5" font-weight="bold" fill="#f4f4f4" text-anchor="middle" textLength="21" lengthAdjust="spacingAndGlyphs">D4</text>
<circle cx="608.5" cy="446.0" r="13" fill="url(#pin)"/>
<circle cx="608.5" cy="446.0" r="13" fill="url(#pinhl)"/>
<rect x="606.0" y="442.0" width="5.5" height="6" rx="1" fill="#e2dfda"/>
<text transform="translate(585,441) rotate(90)" font-size="17.5" font-weight="bold" fill="#f4f4f4" text-anchor="middle" textLength="32.5" lengthAdjust="spacingAndGlyphs">3V3</text>
<circle cx="608.9" cy="485.0" r="13" fill="url(#pin)"/>
<circle cx="608.9" cy="485.0" r="13" fill="url(#pinhl)"/>
<rect x="606.4" y="481.0" width="5.5" height="6" rx="1" fill="#e2dfda"/>
<text transform="translate(585,483.5) rotate(90)" font-size="17.5" font-weight="bold" fill="#f4f4f4" text-anchor="middle" textLength="33" lengthAdjust="spacingAndGlyphs">GND</text>
<circle cx="609.2" cy="522.0" r="13" fill="url(#pin)"/>
<circle cx="609.2" cy="522.0" r="13" fill="url(#pinhl)"/>
<rect x="606.7" y="518.0" width="5.5" height="6" rx="1" fill="#e2dfda"/>
<text transform="translate(581,523) rotate(90)" font-size="17.5" font-weight="bold" fill="#f4f4f4" text-anchor="middle" textLength="20.5" lengthAdjust="spacingAndGlyphs">D5</text>
<circle cx="609.5" cy="559.6" r="13" fill="url(#pin)"/>
<circle cx="609.5" cy="559.6" r="13" fill="url(#pinhl)"/>
<rect x="607.0" y="555.6" width="5.5" height="6" rx="1" fill="#e2dfda"/>
<text transform="translate(581.5,560) rotate(90)" font-size="17.5" font-weight="bold" fill="#f4f4f4" text-anchor="middle" textLength="20.5" lengthAdjust="spacingAndGlyphs">D6</text>
<rect x="596.8" y="582.5" width="26" height="27" rx="1" fill="url(#sqpin)"/>
<circle cx="609.8" cy="596.0" r="8" fill="#4a4642" opacity="0.55"/>
<rect x="607.3" y="592.0" width="5.5" height="6" rx="1" fill="#e2dfda"/>
<text transform="translate(582,598.5) rotate(90)" font-size="17.5" font-weight="bold" fill="#f4f4f4" text-anchor="middle" textLength="21.7" lengthAdjust="spacingAndGlyphs">D7</text>
<circle cx="610.1" cy="633.0" r="13" fill="url(#pin)"/>
<circle cx="610.1" cy="633.0" r="13" fill="url(#pinhl)"/>
<rect x="607.6" y="629.0" width="5.5" height="6" rx="1" fill="#e2dfda"/>
<text transform="translate(582,634) rotate(90)" font-size="17.5" font-weight="bold" fill="#f4f4f4" text-anchor="middle" textLength="22" lengthAdjust="spacingAndGlyphs">D8</text>
<circle cx="610.4" cy="670.0" r="13" fill="url(#pin)"/>
<circle cx="610.4" cy="670.0" r="13" fill="url(#pinhl)"/>
<rect x="607.9" y="666.0" width="5.5" height="6" rx="1" fill="#e2dfda"/>
<text transform="translate(582,670) rotate(90)" font-size="17.5" font-weight="bold" fill="#f4f4f4" text-anchor="middle" textLength="18.5" lengthAdjust="spacingAndGlyphs">RX</text>
<circle cx="610.7" cy="707.0" r="13" fill="url(#pin)"/>
<circle cx="610.7" cy="707.0" r="13" fill="url(#pinhl)"/>
<rect x="608.2" y="703.0" width="5.5" height="6" rx="1" fill="#e2dfda"/>
<text transform="translate(582,708) rotate(90)" font-size="17.5" font-weight="bold" fill="#f4f4f4" text-anchor="middle" textLength="15.5" lengthAdjust="spacingAndGlyphs">TX</text>
<circle cx="611.0" cy="745.0" r="13" fill="url(#pin)"/>
<circle cx="611.0" cy="745.0" r="13" fill="url(#pinhl)"/>
<rect x="608.5" y="741.0" width="5.5" height="6" rx="1" fill="#e2dfda"/>
<text transform="translate(582,742.6) rotate(90)" font-size="17.5" font-weight="bold" fill="#f4f4f4" text-anchor="middle" textLength="28" lengthAdjust="spacingAndGlyphs">GND</text>
<circle cx="611.3" cy="781.5" r="13" fill="url(#pin)"/>
<circle cx="611.3" cy="781.5" r="13" fill="url(#pinhl)"/>
<rect x="608.8" y="777.5" width="5.5" height="6" rx="1" fill="#e2dfda"/>
<text transform="translate(582,780) rotate(90)" font-size="17.5" font-weight="bold" fill="#f4f4f4" text-anchor="middle" textLength="34" lengthAdjust="spacingAndGlyphs">3V3</text>
<rect x="318" y="547.5" width="35" height="14" rx="2" fill="#bdb9b2"/>
<rect x="318" y="607" width="35" height="18" rx="2" fill="#9c978f"/>
<rect x="314" y="560" width="44" height="49" fill="#2a2d30"/>
<rect x="314" y="560" width="44" height="8.5" fill="#8a9ea8"/>
<text transform="translate(336,572) rotate(90)" font-size="18.5" font-weight="normal" fill="#d3dde4" text-anchor="start" textLength="24" lengthAdjust="spacingAndGlyphs" >100</text>
<text transform="translate(320,575) rotate(90)" font-size="18.5" font-weight="normal" fill="#d3dde4" text-anchor="start" textLength="18" lengthAdjust="spacingAndGlyphs" >6V</text>
<line x1="313.5" y1="560.5" x2="313.5" y2="615" stroke="#e4e4e4" stroke-width="1.8"/>
<line x1="359.5" y1="561.5" x2="359.5" y2="613.5" stroke="#e4e4e4" stroke-width="1.8"/>
<rect x="357" y="542" width="39" height="20.5" rx="5" fill="none" stroke="#e6e6e6" stroke-width="2"/>
<rect x="365" y="545" width="26" height="13.5" fill="#b9b2a8"/>
<rect x="372" y="545" width="12" height="13.5" fill="#7a6654"/>
<rect x="365" y="553" width="26" height="5.5" fill="#3a3632"/>
<rect x="365.5" y="574" width="33" height="61.5" rx="1" fill="none" stroke="#eaeaea" stroke-width="2"/>
<rect x="371" y="580" width="22" height="50" rx="3" fill="#c0bab2"/>
<rect x="371" y="591" width="22" height="28" fill="#8e6248"/>
<rect x="400.7" y="539.3" width="38.5" height="17" fill="#8f8b85"/>
<rect x="402" y="540.8" width="8" height="14" fill="#b5b1aa"/>
<rect x="411" y="541.8" width="12" height="12" fill="#e4e1dc"/>
<rect x="424.5" y="541.8" width="13" height="12" fill="#d9d6d0"/>
<rect x="400.7" y="573.5" width="38.5" height="17" fill="#8f8b85"/>
<rect x="402" y="575.0" width="8" height="14" fill="#b5b1aa"/>
<rect x="411" y="576.0" width="12" height="12" fill="#e4e1dc"/>
<rect x="424.5" y="576.0" width="13" height="12" fill="#d9d6d0"/>
<rect x="400.7" y="607.7" width="38.5" height="17" fill="#8f8b85"/>
<rect x="402" y="609.2" width="8" height="14" fill="#b5b1aa"/>
<rect x="411" y="610.2" width="12" height="12" fill="#e4e1dc"/>
<rect x="424.5" y="610.2" width="13" height="12" fill="#d9d6d0"/>
<rect x="438.7" y="536.4" width="48.5" height="89.3" fill="#1d1d1d"/>
<text transform="translate(467,550) rotate(90)" font-size="14" font-weight="normal" fill="#4c4c4c" text-anchor="start" textLength="62" lengthAdjust="spacingAndGlyphs" >AMS1117</text>
<text transform="translate(451,550) rotate(90)" font-size="14" font-weight="normal" fill="#4c4c4c" text-anchor="start" textLength="60" lengthAdjust="spacingAndGlyphs" >33&#160;&#160;&#160;025</text>
<path d="M487,556.4 L510,556.4 A15,27.5 0 0 1 510,611.5 L487,611.5 Z" fill="#c9c5bf"/>
<rect x="488" y="558" width="12" height="52" fill="#dedbd6"/>
<rect x="500" y="558" width="1.6" height="52" fill="#8b8781"/>
<rect x="502" y="558" width="13" height="52" fill="#e9e6e2"/>
<path d="M443.5,629 L443.5,633.5 L488,633.5 L488,629" stroke="#e6e6e6" stroke-width="2" fill="none"/>
<circle cx="426.4" cy="534.5" r="2" fill="#dcdcdc"/>
<rect x="543.2" y="581" width="14.3" height="17" fill="#d2cec7"/>
<rect x="529" y="615.5" width="14" height="16" fill="#bdb8b0"/>
<rect x="557.5" y="615.5" width="14.2" height="16" fill="#bdb8b0"/>
<rect x="528" y="598" width="43" height="17" fill="#1f1f1f"/>
<path d="M537,590.5 L528,590.5 L528,612" stroke="#e0e0e0" stroke-width="2" fill="none"/>
<path d="M563,590.5 L572,590.5 L572,596" stroke="#e0e0e0" stroke-width="2" fill="none"/>
<rect x="313.4" y="646" width="19.6" height="34" rx="4.5" fill="#131313" stroke="#ececec" stroke-width="2"/>
<rect x="317.7" y="650" width="11" height="26" fill="#232323"/>
<rect x="317.7" y="650" width="11" height="7" fill="#bdb8b0"/>
<rect x="317.7" y="669" width="11" height="7" fill="#8e8a84"/>
<rect x="337.7" y="646" width="19.6" height="34" rx="4.5" fill="#131313" stroke="#ececec" stroke-width="2"/>
<rect x="342.0" y="650" width="11" height="26" fill="#232323"/>
<rect x="342.0" y="650" width="11" height="7" fill="#bdb8b0"/>
<rect x="342.0" y="669" width="11" height="7" fill="#8e8a84"/>
<rect x="362.1" y="646" width="19.6" height="34" rx="4.5" fill="#131313" stroke="#ececec" stroke-width="2"/>
<rect x="366.4" y="650" width="11" height="26" fill="#232323"/>
<rect x="366.4" y="650" width="11" height="7" fill="#bdb8b0"/>
<rect x="366.4" y="669" width="11" height="7" fill="#8e8a84"/>
<rect x="386.4" y="646" width="19.6" height="34" rx="4.5" fill="#131313" stroke="#ececec" stroke-width="2"/>
<rect x="390.7" y="650" width="11" height="26" fill="#232323"/>
<rect x="390.7" y="650" width="11" height="7" fill="#bdb8b0"/>
<rect x="390.7" y="669" width="11" height="7" fill="#8e8a84"/>
<rect x="410.7" y="646" width="19.6" height="34" rx="4.5" fill="#131313" stroke="#ececec" stroke-width="2"/>
<rect x="415.0" y="650" width="11" height="26" fill="#232323"/>
<rect x="415.0" y="650" width="11" height="7" fill="#bdb8b0"/>
<rect x="415.0" y="669" width="11" height="7" fill="#8e8a84"/>
<rect x="435.0" y="646" width="19.6" height="34" rx="4.5" fill="#131313" stroke="#ececec" stroke-width="2"/>
<rect x="439.3" y="650" width="11" height="26" fill="#232323"/>
<rect x="439.3" y="650" width="11" height="7" fill="#bdb8b0"/>
<rect x="439.3" y="669" width="11" height="7" fill="#8e8a84"/>
<rect x="439.3" y="657" width="11" height="12" fill="#9a6a4c"/>
<rect x="459.4" y="646" width="19.6" height="34" rx="4.5" fill="#131313" stroke="#ececec" stroke-width="2"/>
<rect x="463.7" y="650" width="11" height="26" fill="#232323"/>
<rect x="463.7" y="650" width="11" height="7" fill="#bdb8b0"/>
<rect x="463.7" y="669" width="11" height="7" fill="#8e8a84"/>
<rect x="463.7" y="657" width="11" height="12" fill="#a99470"/>
<rect x="483.7" y="646" width="19.6" height="34" rx="4.5" fill="#131313" stroke="#ececec" stroke-width="2"/>
<rect x="488.0" y="650" width="11" height="26" fill="#232323"/>
<rect x="488.0" y="650" width="11" height="7" fill="#bdb8b0"/>
<rect x="488.0" y="669" width="11" height="7" fill="#8e8a84"/>
<rect x="508.0" y="646" width="19.6" height="34" rx="4.5" fill="#131313" stroke="#ececec" stroke-width="2"/>
<rect x="512.3" y="650" width="11" height="26" fill="#232323"/>
<rect x="512.3" y="650" width="11" height="7" fill="#bdb8b0"/>
<rect x="512.3" y="669" width="11" height="7" fill="#8e8a84"/>
<rect x="532.4" y="646" width="19.6" height="34" rx="4.5" fill="#131313" stroke="#ececec" stroke-width="2"/>
<rect x="536.7" y="650" width="11" height="26" fill="#232323"/>
<rect x="536.7" y="650" width="11" height="7" fill="#bdb8b0"/>
<rect x="536.7" y="669" width="11" height="7" fill="#8e8a84"/>
<rect x="556.7" y="646" width="19.6" height="34" rx="4.5" fill="#131313" stroke="#ececec" stroke-width="2"/>
<rect x="561.0" y="650" width="11" height="26" fill="#232323"/>
<rect x="561.0" y="650" width="11" height="7" fill="#bdb8b0"/>
<rect x="561.0" y="669" width="11" height="7" fill="#8e8a84"/>
<path d="M383,688 L360.4,688 L360.4,712.6 L383,712.6 M389,688 L409.4,688 L409.4,712.6 L389,712.6" fill="none" stroke="#e8e8e8" stroke-width="2"/>
<rect x="363" y="691.4" width="40" height="16.2" fill="#c9c4bb"/>
<rect x="366" y="692.5" width="14" height="14" fill="#e2e1dc"/>
<rect x="380" y="693" width="13" height="13" fill="#efeeea"/>
<rect x="393" y="692.5" width="9" height="14" fill="#d9d6d0"/>
<rect x="364.8" y="720.8" width="21" height="34.8" rx="4.5" fill="#131313" stroke="#ececec" stroke-width="2"/>
<rect x="368.3" y="724.5" width="14" height="27" fill="#a49d93"/>
<rect x="368.3" y="731" width="14" height="13" fill="#7a6352"/>
<rect x="388.8" y="720.8" width="21" height="34.8" rx="4.5" fill="#131313" stroke="#ececec" stroke-width="2"/>
<rect x="392.3" y="724.5" width="14" height="27" fill="#a49d93"/>
<rect x="392.3" y="731" width="14" height="13" fill="#7a6352"/>
<rect x="321.6" y="707.6" width="15.6" height="10" fill="#dcd9d3"/>
<rect x="321.6" y="741" width="15" height="11" fill="#b7b2a9"/>
<rect x="319.8" y="717" width="17" height="24" fill="#1e1e1e"/>
<rect x="337" y="730" width="5" height="7.6" fill="#c8c4bd"/>
<line x1="342.5" y1="716" x2="342.5" y2="742.4" stroke="#e4e4e4" stroke-width="2"/>
<rect x="531" y="690.5" width="12.5" height="13" fill="#d6d2cb"/>
<rect x="558.7" y="690.5" width="13.3" height="13" fill="#d6d2cb"/>
<rect x="545" y="721" width="13.7" height="18" fill="#b3aea5"/>
<rect x="531" y="703" width="43" height="17" fill="#1f1f1f"/>
<path d="M536,721 L536,731 L545,731 M566,731 L577,731 L577,721" stroke="#e4e4e4" stroke-width="2" fill="none"/>
<rect x="425.6" y="694.3" width="73.2" height="74.1" fill="#211e1c"/>
<rect x="437.0" y="687.6" width="4" height="6.7" rx="1" fill="#dedbd6"/>
<rect x="437.0" y="768.4" width="4" height="6.5" rx="1" fill="#c4c0ba"/>
<rect x="418" y="707.5" width="7.6" height="3.6" rx="1" fill="#dedbd6"/>
<rect x="498.8" y="707.5" width="7.6" height="3.6" rx="1" fill="#d0ccc6"/>
<rect x="444.9" y="687.6" width="4" height="6.7" rx="1" fill="#dedbd6"/>
<rect x="444.9" y="768.4" width="4" height="6.5" rx="1" fill="#c4c0ba"/>
<rect x="418" y="715.2" width="7.6" height="3.6" rx="1" fill="#dedbd6"/>
<rect x="498.8" y="715.2" width="7.6" height="3.6" rx="1" fill="#d0ccc6"/>
<rect x="452.8" y="687.6" width="4" height="6.7" rx="1" fill="#dedbd6"/>
<rect x="452.8" y="768.4" width="4" height="6.5" rx="1" fill="#c4c0ba"/>
<rect x="418" y="722.9" width="7.6" height="3.6" rx="1" fill="#dedbd6"/>
<rect x="498.8" y="722.9" width="7.6" height="3.6" rx="1" fill="#d0ccc6"/>
<rect x="460.7" y="687.6" width="4" height="6.7" rx="1" fill="#dedbd6"/>
<rect x="460.7" y="768.4" width="4" height="6.5" rx="1" fill="#c4c0ba"/>
<rect x="418" y="730.6" width="7.6" height="3.6" rx="1" fill="#dedbd6"/>
<rect x="498.8" y="730.6" width="7.6" height="3.6" rx="1" fill="#d0ccc6"/>
<rect x="468.6" y="687.6" width="4" height="6.7" rx="1" fill="#dedbd6"/>
<rect x="468.6" y="768.4" width="4" height="6.5" rx="1" fill="#c4c0ba"/>
<rect x="418" y="738.3" width="7.6" height="3.6" rx="1" fill="#dedbd6"/>
<rect x="498.8" y="738.3" width="7.6" height="3.6" rx="1" fill="#d0ccc6"/>
<rect x="476.5" y="687.6" width="4" height="6.7" rx="1" fill="#dedbd6"/>
<rect x="476.5" y="768.4" width="4" height="6.5" rx="1" fill="#c4c0ba"/>
<rect x="418" y="746.0" width="7.6" height="3.6" rx="1" fill="#dedbd6"/>
<rect x="498.8" y="746.0" width="7.6" height="3.6" rx="1" fill="#d0ccc6"/>
<rect x="484.4" y="687.6" width="4" height="6.7" rx="1" fill="#dedbd6"/>
<rect x="484.4" y="768.4" width="4" height="6.5" rx="1" fill="#c4c0ba"/>
<rect x="418" y="753.7" width="7.6" height="3.6" rx="1" fill="#dedbd6"/>
<rect x="498.8" y="753.7" width="7.6" height="3.6" rx="1" fill="#d0ccc6"/>
<path d="M498.8,697 L503,697 L503,705 M425,768.5 L425,775 L436,775 M492,775 L506,775 L506,762" stroke="#e6e6e6" stroke-width="2" fill="none"/>
<circle cx="508" cy="692" r="2" fill="#e6e6e6"/>
<text transform="translate(476,706.5) rotate(90)" font-size="11.5" font-weight="normal" fill="#6c5946" text-anchor="start" textLength="49.5" lengthAdjust="spacingAndGlyphs" >SILABS</text>
<text transform="translate(461,706.5) rotate(90)" font-size="11.5" font-weight="normal" fill="#6c5946" text-anchor="start" textLength="50.5" lengthAdjust="spacingAndGlyphs" >CP2102</text>
<text transform="translate(446,714) rotate(90)" font-size="11.5" font-weight="normal" fill="#6c5946" text-anchor="start" textLength="43" lengthAdjust="spacingAndGlyphs" >DCL00X</text>
<text transform="translate(432,710) rotate(90)" font-size="11.5" font-weight="normal" fill="#6c5946" text-anchor="start" textLength="40" lengthAdjust="spacingAndGlyphs" >2230+</text>
<text x="339.5" y="782.5" font-size="20" font-weight="bold" fill="#f2f2f2" textLength="32.5" lengthAdjust="spacingAndGlyphs">RST</text>
<text x="516" y="782.5" font-size="20" font-weight="bold" fill="#f2f2f2" textLength="48" lengthAdjust="spacingAndGlyphs">FLASH</text>
<defs><linearGradient id="usb2" x1="0" y1="0" x2="1" y2="0"><stop offset="0" stop-color="#6a625a"/><stop offset="0.05" stop-color="#b3aa9f"/><stop offset="0.1" stop-color="#8f867c"/><stop offset="0.16" stop-color="#6a625b"/><stop offset="0.32" stop-color="#857c73"/><stop offset="0.5" stop-color="#766d65"/><stop offset="0.66" stop-color="#8c8379"/><stop offset="0.8" stop-color="#d8d3cc"/><stop offset="0.9" stop-color="#bfb8af"/><stop offset="0.97" stop-color="#7d746b"/><stop offset="1" stop-color="#5e5750"/></linearGradient><linearGradient id="usbv" x1="0" y1="0" x2="0" y2="1"><stop offset="0" stop-color="#fff" stop-opacity="0.25"/><stop offset="0.25" stop-color="#fff" stop-opacity="0"/><stop offset="0.9" stop-color="#000" stop-opacity="0"/><stop offset="1" stop-color="#000" stop-opacity="0.18"/></linearGradient></defs>
<rect x="390.5" y="796" width="5" height="12" fill="#cfcbc4"/>
<rect x="390.5" y="803" width="5" height="5" fill="#8e8a84"/>
<rect x="399.5" y="796" width="5" height="12" fill="#cfcbc4"/>
<rect x="399.5" y="803" width="5" height="5" fill="#8e8a84"/>
<rect x="408.5" y="796" width="5" height="12" fill="#cfcbc4"/>
<rect x="408.5" y="803" width="5" height="5" fill="#8e8a84"/>
<rect x="417.5" y="796" width="5" height="12" fill="#cfcbc4"/>
<rect x="417.5" y="803" width="5" height="5" fill="#8e8a84"/>
<rect x="426.5" y="796" width="5" height="12" fill="#cfcbc4"/>
<rect x="426.5" y="803" width="5" height="5" fill="#8e8a84"/>
<rect x="435.5" y="796" width="5" height="12" fill="#cfcbc4"/>
<rect x="435.5" y="803" width="5" height="5" fill="#8e8a84"/>
<rect x="444.5" y="796" width="5" height="12" fill="#cfcbc4"/>
<rect x="444.5" y="803" width="5" height="5" fill="#8e8a84"/>
<rect x="453.5" y="796" width="5" height="12" fill="#cfcbc4"/>
<rect x="453.5" y="803" width="5" height="5" fill="#8e8a84"/>
<rect x="462.5" y="796" width="5" height="12" fill="#cfcbc4"/>
<rect x="462.5" y="803" width="5" height="5" fill="#8e8a84"/>
<rect x="471.5" y="796" width="5" height="12" fill="#cfcbc4"/>
<rect x="471.5" y="803" width="5" height="5" fill="#8e8a84"/>
<rect x="480.5" y="796" width="5" height="12" fill="#cfcbc4"/>
<rect x="480.5" y="803" width="5" height="5" fill="#8e8a84"/>
<rect x="489.5" y="796" width="5" height="12" fill="#cfcbc4"/>
<rect x="489.5" y="803" width="5" height="5" fill="#8e8a84"/>
<rect x="371.5" y="801" width="10" height="29" rx="5" fill="#a99d88"/>
<rect x="372.5" y="864" width="8.5" height="24" rx="4" fill="#8a7446"/>
<rect x="507" y="801" width="10" height="29" rx="5" fill="#a99d88"/>
<rect x="508" y="864" width="8.5" height="24" rx="4" fill="#8a7446"/>
<rect x="379.5" y="807.5" width="129" height="109.5" rx="4" fill="url(#usb2)"/>
<rect x="379.5" y="807.5" width="129" height="109.5" rx="4" fill="url(#usbv)"/>
<path d="M402,807.5 L402,820 Q402,828.5 410,828.5 L421,828.5 Q429,828.5 429,820 L429,807.5 Z" fill="#cfc9c0"/>
<path d="M404.5,807.5 L404.5,819 Q404.5,825.5 411,825.5 L420,825.5 Q426.5,825.5 426.5,819 L426.5,807.5 Z" fill="#2a2724"/>
<path d="M457,807.5 L457,820 Q457,828.5 465,828.5 L476,828.5 Q484,828.5 484,820 L484,807.5 Z" fill="#cfc9c0"/>
<path d="M459.5,807.5 L459.5,819 Q459.5,825.5 466,825.5 L475,825.5 Q481.5,825.5 481.5,819 L481.5,807.5 Z" fill="#2a2724"/>
<rect x="405" y="838.5" width="19" height="9" rx="4.5" fill="#e6e1d8"/>
<rect x="409" y="840.5" width="11" height="5" rx="2" fill="#b08a55"/>
<rect x="458.5" y="838.5" width="19" height="9" rx="4.5" fill="#e6e1d8"/>
<rect x="462.5" y="840.5" width="11" height="5" rx="2" fill="#b08a55"/>
<rect x="317.5" y="824" width="47.5" height="63" fill="none" stroke="#e0e0e0" stroke-width="1.5"/>
<rect x="327" y="814" width="23" height="12" fill="#d6d2ca"/>
<rect x="329" y="880" width="22" height="15" fill="#a9a399"/>
<rect x="320" y="825" width="40" height="56" fill="url(#btn)"/>
<rect x="320" y="825" width="40" height="56" fill="none" stroke="#b9b2a8" stroke-width="2"/>
<circle cx="339.5" cy="853" r="13.5" fill="#36383b"/>
<circle cx="339.5" cy="853" r="13.5" fill="none" stroke="#25272a" stroke-width="1.5"/>
<rect x="524.0" y="824" width="47.5" height="63" fill="none" stroke="#e0e0e0" stroke-width="1.5"/>
<rect x="533.5" y="814" width="23" height="12" fill="#d6d2ca"/>
<rect x="535.5" y="880" width="22" height="15" fill="#a9a399"/>
<rect x="526.5" y="825" width="40" height="56" fill="url(#btn)"/>
<rect x="526.5" y="825" width="40" height="56" fill="none" stroke="#b9b2a8" stroke-width="2"/>
<circle cx="548" cy="853" r="13.5" fill="#36383b"/>
<circle cx="548" cy="853" r="13.5" fill="none" stroke="#25272a" stroke-width="1.5"/>
</g>
</svg>
</body></html>
